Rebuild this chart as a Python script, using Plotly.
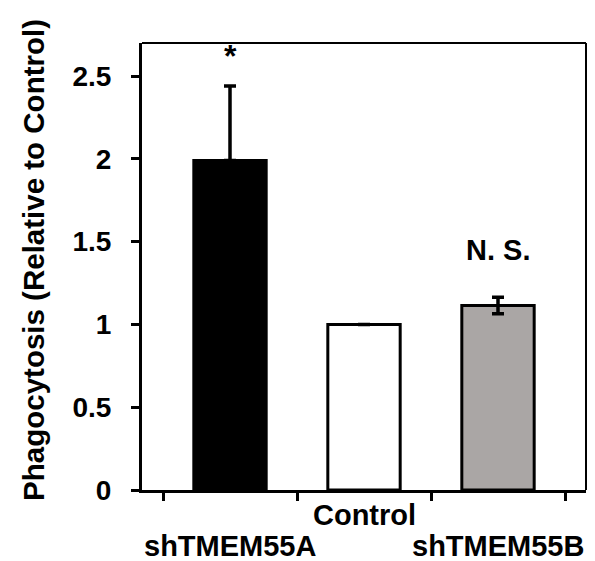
import plotly.graph_objects as go

categories = ["shTMEM55A", "Control", "shTMEM55B"]
values = [1.99, 1.0, 1.115]
err_plus = [0.45, 0.0, 0.05]
err_minus = [0.0, 0.0, 0.05]
bar_colors = ["#000000", "#FFFFFF", "#AAA6A5"]
label_rows = [1, 0, 1]  # 0 = upper row, 1 = lower row (staggered category labels)
y_ticks = [0, 0.5, 1, 1.5, 2, 2.5]
y_ticktext = ["0", "0.5", "1", "1.5", "2", "2.5"]
signif_text = ["*", "", "N. S."]
signif_y = [2.62, None, 1.45]
y_title = "Phagocytosis (Relative to Control)"

FONT = "Liberation Sans, Arial, sans-serif"

fig = go.Figure()
fig.add_trace(go.Bar(
    x=categories, y=values,
    marker=dict(color=bar_colors, line=dict(color="black", width=3)),
    error_y=dict(type="data", symmetric=False, array=err_plus,
                 arrayminus=err_minus, visible=True, color="black",
                 thickness=3.5, width=6),
    showlegend=False,
))

for cat, row in zip(categories, label_rows):
    fig.add_annotation(x=cat, xref="x", y=-0.097 - 0.069 * row, yref="paper",
                       text=cat, showarrow=False,
                       yanchor="bottom", xanchor="center",
                       font=dict(family=FONT, size=29, color="black", weight="bold"))

for cat, t, yv in zip(categories, signif_text, signif_y):
    if t:
        fig.add_annotation(x=cat, y=yv, xref="x", yref="y", text=t,
                           showarrow=False, yanchor="middle",
                           font=dict(family=FONT, size=32 if t == "*" else 29,
                                     color="black", weight="bold"))

fig.add_annotation(x=-0.243, y=0.515, xref="paper", yref="paper",
                   text=y_title, textangle=-90, showarrow=False,
                   xanchor="center", yanchor="middle",
                   font=dict(family=FONT, size=29.5, color="black", weight="bold"))

# top and right frame lines
fig.add_shape(type="line", xref="paper", yref="paper", x0=0, x1=1, y0=1, y1=1,
              line=dict(color="black", width=2))
fig.add_shape(type="line", xref="paper", yref="paper", x0=1, x1=1, y0=0, y1=1,
              line=dict(color="black", width=2))

fig.update_layout(
    width=595, height=561,
    margin=dict(l=134, r=17, t=35, b=79),
    paper_bgcolor="white", plot_bgcolor="white",
    bargap=0.46,
    font=dict(family=FONT, color="black"),
    xaxis=dict(
        type="category", showticklabels=False, tickson="boundaries",
        ticks="outside", ticklen=8, tickwidth=3, tickcolor="black",
        showline=True, linecolor="black", linewidth=3, showgrid=False,
        zeroline=False, automargin=False,
    ),
    yaxis=dict(
        range=[0, 2.7], tickvals=y_ticks, ticktext=y_ticktext,
        ticks="outside", ticklen=8, tickwidth=3, tickcolor="black",
        showline=True, linecolor="black", linewidth=3, showgrid=False,
        zeroline=False, automargin=False, ticklabelstandoff=14,
        tickfont=dict(family=FONT, size=28, color="black", weight="bold"),
    ),
)

fig.write_html("out.html")
